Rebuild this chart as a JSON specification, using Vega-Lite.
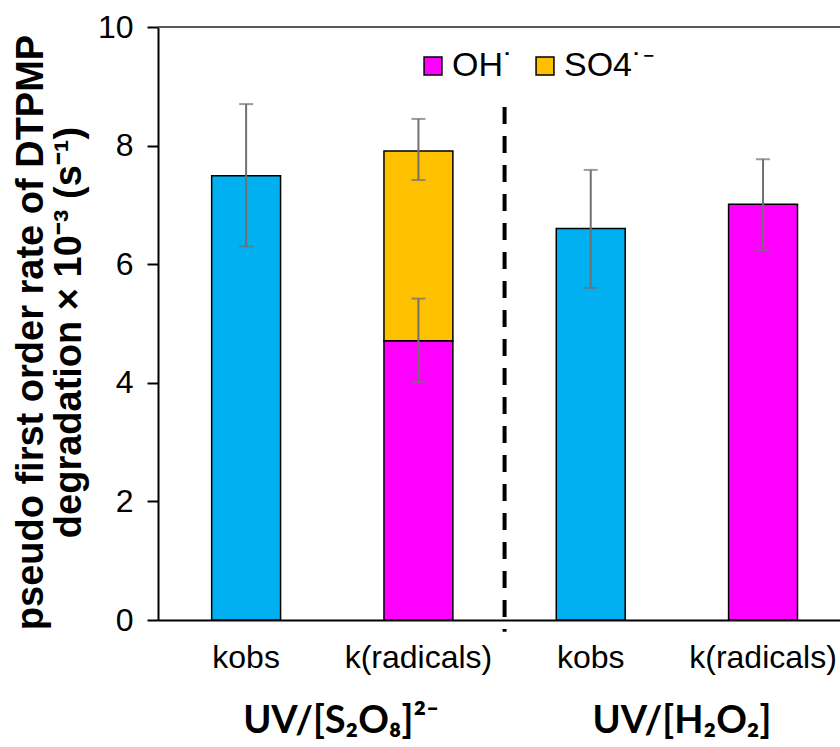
{
  "$schema": "https://vega.github.io/schema/vega-lite/v6.json",
  "autosize": {"type": "none"},
  "width": 682,
  "height": 593,
  "padding": {"left": 158, "top": 27, "right": 0, "bottom": 127},
  "config": {"view": {"stroke": null}, "font": "Liberation Sans"},
  "datasets": {
    "bars": [
      {"cat": "S|kobs", "series": "kobs", "ord": 1, "value": 7.49, "elo": 6.30, "ehi": 8.70},
      {"cat": "S|k(radicals)", "series": "OH˙", "ord": 1, "value": 4.71, "elo": 4.01, "ehi": 5.42},
      {"cat": "S|k(radicals)", "series": "SO4˙⁻", "ord": 2, "value": 3.20, "elo": 7.42, "ehi": 8.45},
      {"cat": "H|kobs", "series": "kobs", "ord": 1, "value": 6.60, "elo": 5.60, "ehi": 7.59},
      {"cat": "H|k(radicals)", "series": "OH˙", "ord": 1, "value": 7.01, "elo": 6.24, "ehi": 7.77}
    ],
    "divider": [{"cat": "S|k(radicals)", "top": 8.65, "bottom": -0.2}],
    "groups": [{"group": "UV/[S₂O₈]²⁻"}, {"group": "UV/[H₂O₂]"}],
    "border": [{"v": 10}]
  },
  "resolve": {"scale": {"x": "independent"}},
  "layer": [
    {
      "layer": [
        {
          "data": {"name": "bars"},
          "mark": {"type": "bar", "stroke": "black", "strokeWidth": 1.5},
          "encoding": {
            "x": {
              "field": "cat", "type": "nominal", "sort": null,
              "scale": {"domain": ["S|kobs", "S|k(radicals)", "H|kobs", "H|k(radicals)"], "paddingInner": 0.6, "paddingOuter": 0.279, "align": 0.558},
              "axis": {"title": null, "labelExpr": "split(datum.value, '|')[1]", "ticks": false, "domainColor": "black", "domainWidth": 2, "labelFontSize": 32, "labelColor": "black", "labelPadding": 22, "labelAngle": 0, "labelFont": "Liberation Sans"}
            },
            "y": {
              "field": "value", "type": "quantitative", "stack": "zero",
              "scale": {"domain": [0, 10], "nice": false},
              "title": ["pseudo first order rate of DTPMP", "degradation × 10⁻³ (s⁻¹)"],
              "axis": {"values": [0, 2, 4, 6, 8, 10], "format": "d", "grid": false, "domainColor": "black", "domainWidth": 2, "tickColor": "black", "tickWidth": 2, "tickSize": 11, "labelFontSize": 32, "labelColor": "black", "labelPadding": 14, "titleFontSize": 38, "titleFontWeight": "bold", "titleColor": "black", "titleFont": "Liberation Sans", "titleLineHeight": 38, "titleX": -108, "titleY": 305, "titleAngle": 270, "titleBaseline": "bottom", "titleAlign": "center", "labelFont": "Liberation Sans"}
            },
            "color": {
              "field": "series", "type": "nominal",
              "scale": {"domain": ["kobs", "OH˙", "SO4˙⁻"], "range": ["#00B0F0", "#FF00FF", "#FFC000"]},
              "legend": {"orient": "none", "legendX": 258, "legendY": 22, "direction": "horizontal", "values": ["OH˙", "SO4˙⁻"], "title": null, "symbolType": "square", "symbolSize": 320, "symbolStrokeColor": "black", "symbolStrokeWidth": 1.5, "labelFontSize": 34, "labelColor": "black", "labelFont": "Liberation Sans", "columnPadding": 13, "labelOffset": 2}
            },
            "order": {"field": "ord", "type": "quantitative"}
          }
        },
        {
          "data": {"name": "bars"},
          "mark": {"type": "errorbar", "color": "#707070", "thickness": 2, "ticks": {"size": 14, "thickness": 2, "color": "#707070"}},
          "encoding": {
            "x": {"field": "cat", "type": "nominal", "sort": null},
            "y": {"field": "elo", "type": "quantitative", "scale": {"domain": [0, 10], "nice": false}, "title": ["pseudo first order rate of DTPMP", "degradation × 10⁻³ (s⁻¹)"]},
            "y2": {"field": "ehi"}
          }
        },
        {
          "data": {"name": "divider"},
          "mark": {"type": "rule", "color": "black", "strokeWidth": 4, "strokeDash": [17, 12]},
          "encoding": {
            "x": {"field": "cat", "type": "nominal", "bandPosition": 1.75},
            "y": {"field": "top", "type": "quantitative", "scale": {"domain": [0, 10], "nice": false}, "title": ["pseudo first order rate of DTPMP", "degradation × 10⁻³ (s⁻¹)"]},
            "y2": {"field": "bottom"}
          }
        }
      ]
    },
    {
      "data": {"name": "groups"},
      "mark": {"type": "text", "opacity": 0},
      "encoding": {
        "x": {
          "field": "group", "type": "nominal", "sort": null,
          "scale": {"paddingInner": 0, "paddingOuter": 0},
          "axis": {"orient": "bottom", "title": null, "domain": false, "ticks": false, "labelAngle": 0, "labelFontSize": 38, "labelFontWeight": "bold", "labelFont": "Lato", "labelColor": "black", "labelPadding": 82, "labelLimit": 0, "labelOffset": 12}
        },
        "y": {"datum": 0, "type": "quantitative", "scale": {"domain": [0, 10], "nice": false}},
        "text": {"field": "group"}
      }
    },
    {
      "data": {"name": "border"},
      "mark": {"type": "rule", "color": "#595959", "strokeWidth": 2},
      "encoding": {
        "y": {"field": "v", "type": "quantitative", "scale": {"domain": [0, 10], "nice": false}, "title": ["pseudo first order rate of DTPMP", "degradation × 10⁻³ (s⁻¹)"]}
      }
    }
  ]
}
